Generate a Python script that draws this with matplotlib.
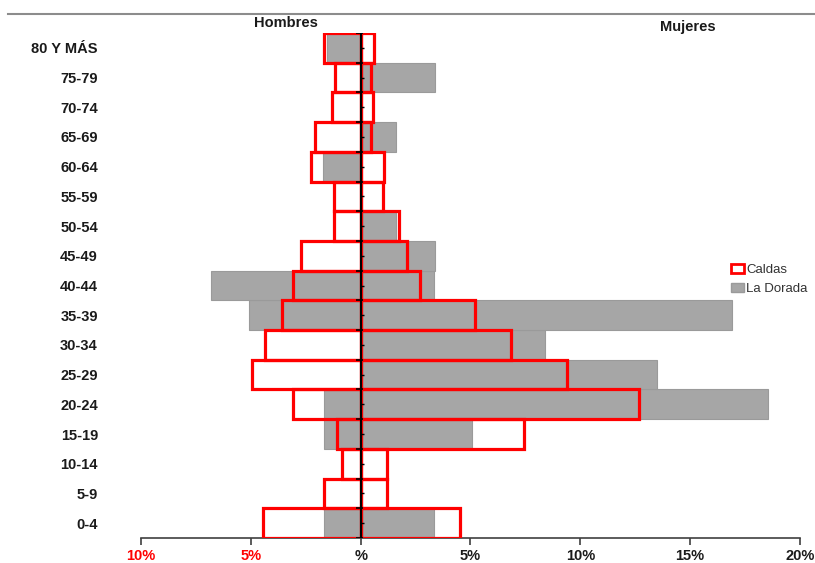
import matplotlib
matplotlib.use("Agg")
import matplotlib.pyplot as plt
from matplotlib.patches import Patch
import numpy as np

plt.rcParams['font.family'] = ['Liberation Sans', 'DejaVu Sans']

ages = ['0-4', '5-9', '10-14', '15-19', '20-24', '25-29', '30-34', '35-39', '40-44',
        '45-49', '50-54', '55-59', '60-64', '65-69', '70-74', '75-79', '80 Y MÁS']
caldas_hombres = [4.43, 1.67, 0.85, 1.1, 3.1, 4.95, 4.35, 3.6, 3.07, 2.7, 1.2, 1.2, 2.25, 2.1, 1.3, 1.15, 1.65]
caldas_mujeres = [4.53, 1.18, 1.18, 7.45, 12.65, 9.4, 6.85, 5.2, 2.7, 2.1, 1.75, 1.0, 1.05, 0.45, 0.55, 0.45, 0.6]
dorada_hombres = [1.67, 0, 0, 1.67, 1.67, 0, 0, 5.1, 6.8, 0, 0, 0, 1.7, 0, 0, 0, 1.55]
dorada_mujeres = [3.34, 0, 0, 5.05, 18.55, 13.5, 8.4, 16.9, 3.35, 3.4, 1.6, 0, 0, 1.6, 0, 3.4, 0]
xticks = [-10, -5, 0, 5, 10, 15, 20]
xticklabels = ['10%', '5%', '%', '5%', '10%', '15%', '20%']

fig = plt.figure(figsize=(8.15, 5.63), dpi=100)
ax = fig.add_axes([141/815, 1 - 538/563, (800 - 141)/815, (538 - 33)/563])

y = np.arange(len(ages))
gray = '#a6a6a6'
ax.barh(y, -np.array(dorada_hombres), height=1.0, color=gray, edgecolor='#9a9a9a', linewidth=0.8, zorder=2)
ax.barh(y, dorada_mujeres, height=1.0, color=gray, edgecolor='#9a9a9a', linewidth=0.8, zorder=2)
ax.barh(y, -np.array(caldas_hombres), height=1.0, facecolor='none', edgecolor='#ff0000', linewidth=2.3, zorder=3)
ax.barh(y, caldas_mujeres, height=1.0, facecolor='none', edgecolor='#ff0000', linewidth=2.3, zorder=3)

ax.set_xlim(-10, 20)
ax.set_ylim(-0.5, len(ages) - 0.5)

# zero axis with its tick marks
ax.axvline(0, color='black', linewidth=1.5, zorder=4)
for b in np.arange(-0.5, len(ages), 1.0):
    ax.plot([-0.2, 0.12], [b, b], color='black', linewidth=1.2, zorder=4, solid_capstyle='butt')
for c in y:
    ax.plot([0, 0.15], [c, c], color='black', linewidth=1.0, zorder=4, solid_capstyle='butt')

for s in ['top', 'right', 'left']:
    ax.spines[s].set_visible(False)
ax.spines['bottom'].set_color('#404040')
ax.spines['bottom'].set_linewidth(1.2)

ax.set_xticks(xticks)
ax.set_xticklabels(xticklabels, fontsize=10.5, fontweight='bold', color='#1a1a1a')
for lbl, v in zip(ax.get_xticklabels(), xticks):
    if v < 0:
        lbl.set_color('#ff0000')
ax.tick_params(axis='x', length=5, width=1.2, color='#404040', pad=3)

ax.set_yticks(y)
ax.set_yticklabels(ages, fontsize=10.5, fontweight='bold', color='#1a1a1a')
ax.tick_params(axis='y', length=0, pad=31)

fig.text(286/815, 1 - 23/563, 'Hombres', ha='center', va='center', fontsize=10.5,
         fontweight='bold', color='#1a1a1a')
fig.text(688/815, 1 - 27/563, 'Mujeres', ha='center', va='center', fontsize=10.5,
         fontweight='bold', color='#1a1a1a')

# top frame line
fig.add_artist(plt.Line2D([8/815, 1], [1 - 14/563, 1 - 14/563], color='#8c8c8c', linewidth=1.5))

handles = [Patch(facecolor='white', edgecolor='#ff0000', linewidth=2, label='Caldas'),
           Patch(facecolor=gray, edgecolor='#9a9a9a', label='La Dorada')]
leg = fig.legend(handles=handles, loc='upper left', bbox_to_anchor=(731/815, 1 - 264/563),
                 frameon=False, fontsize=9.5, handlelength=1.0, handleheight=0.6,
                 handletextpad=0.15, labelspacing=0.55, borderaxespad=0, borderpad=0)
for t in leg.get_texts():
    t.set_color('#333333')

fig.savefig('out.png', dpi=100)
